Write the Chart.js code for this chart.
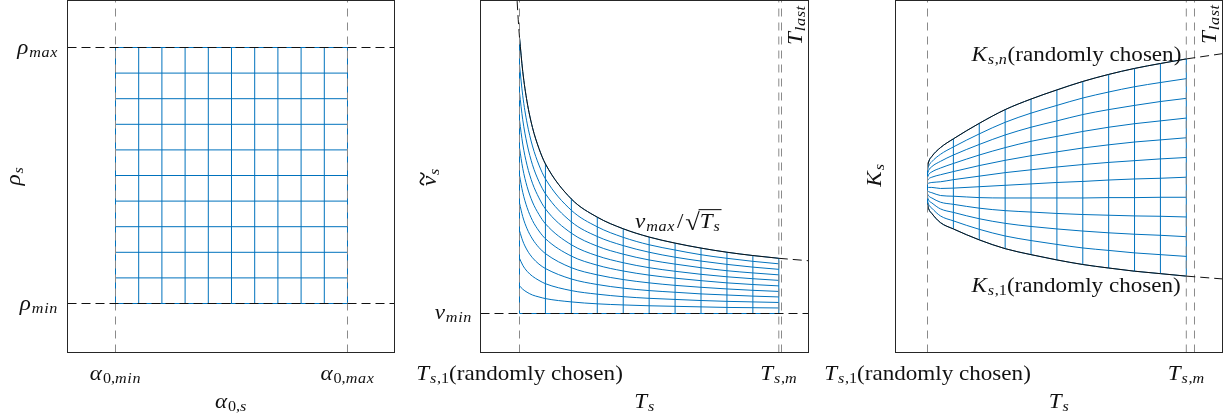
<!DOCTYPE html>
<html>
<head>
<meta charset="utf-8">
<script src="https://cdn.jsdelivr.net/npm/chart.js@4.4.1/dist/chart.umd.min.js"></script>
<style>
  html, body { margin: 0; padding: 0; background: #ffffff; }
  #wrap { position: relative; width: 1231px; height: 418px; overflow: hidden; }
  #wrap canvas { position: absolute; left: 0; top: 0; }
</style>
</head>
<body>
<div id="wrap">
  <canvas id="c1" width="1231" height="418"></canvas>
  <canvas id="c2" width="1231" height="418"></canvas>
  <canvas id="c3" width="1231" height="418"></canvas>
</div>
<script>
// ===================== DATA =====================
// Panel 1: alpha_0 / rho grid
const p1Alpha = [0, 0.1, 0.2, 0.3, 0.4, 0.5, 0.6, 0.7, 0.8, 0.9, 1];
const p1Rho   = [0, 0.1, 0.2, 0.3, 0.4, 0.5, 0.6, 0.7, 0.8, 0.9, 1];
const p1XTickValues = [0, 1];
const p1XTickLabels = ["α_{0,min}", "α_{0,max}"];
const p1YTickValues = [0, 1];
const p1YTickLabels = ["ρ_{min}", "ρ_{max}"];
const p1XTitle = "α_{0,s}";
const p1YTitle = "ρ_s";

// Panel 2: nu~ vs T_s
const p2T = [1, 1.3, 1.7, 2.2, 2.8, 3.4, 5.8, 8.2, 10.6, 13, 15.4, 17.8, 20.2, 22.6, 25];
const p2Envelope = [1.000, 0.877, 0.767, 0.674, 0.598, 0.542, 0.415, 0.349, 0.307, 0.277, 0.255, 0.237, 0.222, 0.210, 0.200];
const p2Curves = [
  [0.100, 0.088, 0.077, 0.067, 0.060, 0.054, 0.042, 0.035, 0.031, 0.028, 0.026, 0.024, 0.022, 0.021, 0.020],
  [0.200, 0.175, 0.153, 0.135, 0.120, 0.108, 0.083, 0.070, 0.061, 0.055, 0.051, 0.047, 0.044, 0.042, 0.040],
  [0.300, 0.263, 0.230, 0.202, 0.179, 0.163, 0.125, 0.105, 0.092, 0.083, 0.077, 0.071, 0.067, 0.063, 0.060],
  [0.400, 0.351, 0.307, 0.270, 0.239, 0.217, 0.166, 0.140, 0.123, 0.111, 0.102, 0.095, 0.089, 0.084, 0.080],
  [0.500, 0.439, 0.384, 0.337, 0.299, 0.271, 0.208, 0.175, 0.154, 0.139, 0.128, 0.119, 0.111, 0.105, 0.100],
  [0.600, 0.526, 0.460, 0.404, 0.359, 0.325, 0.249, 0.209, 0.184, 0.166, 0.153, 0.142, 0.133, 0.126, 0.120],
  [0.700, 0.614, 0.537, 0.472, 0.419, 0.379, 0.291, 0.244, 0.215, 0.194, 0.179, 0.166, 0.155, 0.147, 0.140],
  [0.800, 0.702, 0.614, 0.539, 0.478, 0.434, 0.332, 0.279, 0.246, 0.222, 0.204, 0.190, 0.178, 0.168, 0.160],
  [0.900, 0.789, 0.690, 0.607, 0.538, 0.488, 0.374, 0.314, 0.276, 0.249, 0.230, 0.213, 0.200, 0.189, 0.180]
];
const p2GridT   = [1, 3.4, 5.8, 8.2, 10.6, 13, 15.4, 17.8, 20.2, 22.6, 25];
const p2GridTop = [1.000, 0.542, 0.415, 0.349, 0.307, 0.277, 0.255, 0.237, 0.222, 0.210, 0.200];
const p2NuMin = 0;
const p2EnvLeftT  = [0.78, 0.85, 0.92, 1];
const p2EnvLeftV  = [1.132, 1.085, 1.043, 1.000];
const p2EnvRightT = [25, 27.8];
const p2EnvRightV = [0.200, 0.191];
const p2Ts1 = 1, p2Tsm = 25, p2Tlast = 25.25;
const p2XTickValues = [1, 25];
const p2XTickLabels = ["T_{s,1}\\text{(randomly chosen)}", "T_{s,m}"];
const p2YTickValues = [0];
const p2YTickLabels = ["ν_{min}"];
const p2XTitle = "T_s";
const p2YTitle = "\\tilde{ν}_s";
const p2EnvLabel = "ν_{max}/\\sqrt{T_s}";
const p2TlastLabel = "T_{last}";

// Panel 3: K_s vs T_s
const p3T = [1, 1.1, 1.4, 2.2, 3.4, 5.8, 8.2, 10.6, 13, 15.4, 17.8, 20.2, 22.6, 25];
const p3Curves = [
  [4.23, 4.09, 3.95, 3.69, 3.51, 3.20, 2.95, 2.78, 2.63, 2.50, 2.40, 2.31, 2.24, 2.17],
  [4.32, 4.21, 4.10, 3.88, 3.74, 3.50, 3.31, 3.18, 3.07, 2.97, 2.90, 2.83, 2.78, 2.73],
  [4.42, 4.33, 4.25, 4.08, 3.98, 3.80, 3.67, 3.58, 3.51, 3.45, 3.40, 3.36, 3.33, 3.29],
  [4.51, 4.45, 4.39, 4.27, 4.21, 4.10, 4.03, 3.99, 3.95, 3.92, 3.90, 3.88, 3.87, 3.85],
  [4.60, 4.57, 4.54, 4.46, 4.44, 4.40, 4.39, 4.39, 4.39, 4.39, 4.40, 4.40, 4.41, 4.41],
  [4.69, 4.69, 4.69, 4.66, 4.67, 4.71, 4.75, 4.79, 4.83, 4.86, 4.90, 4.93, 4.95, 4.98],
  [4.79, 4.81, 4.83, 4.85, 4.91, 5.01, 5.11, 5.19, 5.27, 5.34, 5.40, 5.45, 5.50, 5.54],
  [4.88, 4.93, 4.98, 5.05, 5.14, 5.31, 5.46, 5.59, 5.70, 5.81, 5.90, 5.98, 6.04, 6.10],
  [4.97, 5.05, 5.13, 5.24, 5.37, 5.61, 5.82, 6.00, 6.14, 6.28, 6.40, 6.50, 6.58, 6.66],
  [5.07, 5.17, 5.28, 5.43, 5.61, 5.91, 6.18, 6.40, 6.58, 6.76, 6.90, 7.02, 7.13, 7.22],
  [5.16, 5.29, 5.42, 5.63, 5.84, 6.21, 6.54, 6.80, 7.02, 7.23, 7.40, 7.55, 7.67, 7.78],
  [5.25, 5.41, 5.57, 5.82, 6.07, 6.51, 6.90, 7.20, 7.46, 7.70, 7.90, 8.07, 8.21, 8.34]
];
const p3GridT    = [1, 3.4, 5.8, 8.2, 10.6, 13, 15.4, 17.8, 20.2, 22.6, 25];
const p3GridLow  = [4.23, 3.51, 3.20, 2.95, 2.78, 2.63, 2.50, 2.40, 2.31, 2.24, 2.17];
const p3GridHigh = [5.25, 6.07, 6.51, 6.90, 7.20, 7.46, 7.70, 7.90, 8.07, 8.21, 8.34];
const p3ExtT     = [25, 28.36];
const p3ExtHigh  = [8.34, 8.49];
const p3ExtLow   = [2.17, 2.09];
const p3Ts1 = 1, p3Tsm = 25, p3Tlast = 25.76;
const p3XTickValues = [1, 25];
const p3XTickLabels = ["T_{s,1}\\text{(randomly chosen)}", "T_{s,m}"];
const p3XTitle = "T_s";
const p3YTitle = "K_s";
const p3UpperLabel = "K_{s,n}\\text{(randomly chosen)}";
const p3LowerLabel = "K_{s,1}\\text{(randomly chosen)}";
const p3TlastLabel = "T_{last}";

// ===================== STYLE / LAYOUT =====================
const W = 1231, H = 418;
const BLUE = '#0072BD', BLACK = '#111111', GRAY = '#8a8a8a', FRAME = '#262626', TEXTC = '#111111';
const SERIF = '"Liberation Serif", "DejaVu Serif", serif';
const FS = 21, STRETCH = 1.1;
const AREA1 = {l: 67.5, t: 0.5, r: 394.5, b: 352.5};
const AREA2 = {l: 480.5, t: 0.5, r: 808.5, b: 352.5};
const AREA3 = {l: 895.5, t: 0.5, r: 1222.5, b: 352.5};
const AX1 = {x: [-0.2069, 1.2026], y: [-0.1914, 1.1836]};
const AX2 = {x: [-2.610, 27.749], y: [-0.1413, 1.1341]};
const AX3 = {x: [-1.968, 28.357], y: [0, 10]};
const XTICK_BASE = 380, XTITLE_BASE = 408;

// ===================== TEX-LIKE TEXT =====================
function parseTex(s) {
  let i = 0;
  function parseArg() {
    if (s[i] === '{') { i++; const n = parseSeq('}'); i++; return n; }
    return [{t: 'c', v: s[i++]}];
  }
  function parseSeq(end) {
    const out = [];
    while (i < s.length && s[i] !== end) {
      const ch = s[i];
      if (ch === '\\') {
        const m = /^\\([a-z]+)/.exec(s.slice(i));
        i += m[0].length;
        const cmd = m[1];
        if (cmd === 'text') { i++; const j = s.indexOf('}', i); out.push({t: 'text', v: s.slice(i, j)}); i = j + 1; }
        else if (cmd === 'sqrt') out.push({t: 'sqrt', c: parseArg()});
        else if (cmd === 'tilde') out.push({t: 'tilde', c: parseArg()});
      } else if (ch === '_') { i++; out.push({t: 'sub', c: parseArg()}); }
      else { out.push({t: 'c', v: ch}); i++; }
    }
    return out;
  }
  return parseSeq(undefined);
}
function renderTex(ctx, nodes, x, y, size, draw) {
  let cx = x;
  for (const n of nodes) {
    if (n.t === 'c') {
      const it = /[A-Za-z\u0370-\u03FF]/.test(n.v);
      const pad = n.v === '/' ? size * 0.08 : 0;
      ctx.font = (it ? 'italic ' : '') + size + 'px ' + SERIF;
      if (draw) ctx.fillText(n.v, cx + pad, y);
      cx += ctx.measureText(n.v).width + (it ? size * 0.04 : 0) + 2 * pad;
    } else if (n.t === 'text') {
      ctx.font = size + 'px ' + SERIF;
      if (draw) ctx.fillText(n.v, cx, y);
      cx += ctx.measureText(n.v).width;
    } else if (n.t === 'sub') {
      cx += renderTex(ctx, n.c, cx, y + size * 0.16, size * 0.7, draw);
    } else if (n.t === 'sqrt') {
      ctx.font = (size * 1.15) + 'px ' + SERIF;
      const w0 = ctx.measureText('√').width;
      if (draw) ctx.fillText('√', cx, y + size * 0.1);
      cx += w0;
      const w = renderTex(ctx, n.c, cx, y, size, false);
      if (draw) {
        renderTex(ctx, n.c, cx, y, size, true);
        ctx.fillRect(cx - 1, y - size * 0.9, w + 2, Math.max(1, size * 0.05));
      }
      cx += w;
    } else if (n.t === 'tilde') {
      const w = renderTex(ctx, n.c, cx, y, size, draw);
      if (draw) {
        const tcx = cx + w / 2 + size * 0.07, ty = y - size * 0.66;
        const tw = size * 0.5, amp = size * 0.13;
        ctx.save();
        ctx.lineWidth = Math.max(1.2, size * 0.07);
        ctx.strokeStyle = ctx.fillStyle;
        ctx.lineCap = 'round';
        ctx.beginPath();
        ctx.moveTo(tcx - tw / 2, ty + amp * 0.5);
        ctx.bezierCurveTo(tcx - tw / 3, ty - amp * 1.4, tcx - tw / 8, ty - amp * 0.6, tcx, ty);
        ctx.bezierCurveTo(tcx + tw / 8, ty + amp * 0.6, tcx + tw / 3, ty + amp * 1.4, tcx + tw / 2, ty - amp * 0.5);
        ctx.stroke();
        ctx.restore();
      }
      cx += w;
    }
  }
  return cx - x;
}
function tex(ctx, str, x, y, align, rot) {
  const nodes = parseTex(str);
  ctx.save();
  ctx.textAlign = 'left'; ctx.textBaseline = 'alphabetic';
  const w = renderTex(ctx, nodes, 0, 0, FS, false);
  const off = align === 'center' ? w / 2 : (align === 'right' ? w : 0);
  ctx.translate(x, y);
  if (rot) ctx.rotate(rot);
  ctx.scale(STRETCH, 1);
  renderTex(ctx, nodes, -off, 0, FS, true);
  ctx.restore();
}

// ===================== CHART HELPERS =====================
function line(xs, ys, style) {
  return Object.assign({
    data: xs.map((x, k) => ({x: x, y: ys[k]})),
    borderColor: BLUE, borderWidth: 1, pointRadius: 0, pointHoverRadius: 0,
    fill: false, tension: 0, order: 3
  }, style || {});
}
const CURVE = {cubicInterpolationMode: 'monotone'};
const DASH_BLACK = {borderColor: BLACK, borderDash: [9, 5], order: 0};
const DASH_GRAY = {borderColor: GRAY, borderDash: [8, 6], order: 0};
const SOLID_BLACK = {borderColor: BLACK, order: 1};

function textPlugin(drawFn) {
  return {
    id: 'texLabels',
    afterDraw(chart) {
      const ctx = chart.ctx, a = chart.chartArea;
      ctx.save();
      ctx.setLineDash([]);
      ctx.strokeStyle = FRAME; ctx.lineWidth = 1;
      ctx.strokeRect(a.left, a.top, a.right - a.left, a.bottom - a.top);
      ctx.fillStyle = TEXTC;
      drawFn(ctx, chart.scales.x, chart.scales.y, a);
      ctx.restore();
    }
  };
}
function makeChart(id, area, ax, datasets, drawFn) {
  return new Chart(document.getElementById(id), {
    type: 'line',
    data: {datasets: datasets},
    options: {
      responsive: false, animation: false, devicePixelRatio: 1, events: [],
      layout: {padding: {left: area.l, top: area.t, right: W - area.r, bottom: H - area.b}},
      plugins: {legend: {display: false}, tooltip: {enabled: false}},
      scales: {
        x: {type: 'linear', min: ax.x[0], max: ax.x[1], display: false},
        y: {type: 'linear', min: ax.y[0], max: ax.y[1], display: false}
      }
    },
    plugins: [textPlugin(drawFn)]
  });
}

// ===================== PANEL 1 =====================
const ds1 = [];
p1Alpha.forEach(a => ds1.push(line([a, a], [p1Rho[0], p1Rho[p1Rho.length - 1]])));
p1Rho.forEach(r => ds1.push(line([p1Alpha[0], p1Alpha[p1Alpha.length - 1]], [r, r])));
p1YTickValues.forEach(v => ds1.push(line(AX1.x, [v, v], DASH_BLACK)));
p1XTickValues.forEach(v => ds1.push(line([v, v], AX1.y, DASH_GRAY)));
makeChart('c1', AREA1, AX1, ds1, (ctx, sx, sy, a) => {
  p1XTickValues.forEach((v, k) => tex(ctx, p1XTickLabels[k], sx.getPixelForValue(v), XTICK_BASE, 'center'));
  p1YTickValues.forEach((v, k) => tex(ctx, p1YTickLabels[k], a.left - 9.5, sy.getPixelForValue(v) + 6, 'right'));
  tex(ctx, p1XTitle, (a.left + a.right) / 2, XTITLE_BASE, 'center');
  tex(ctx, p1YTitle, 20, 176, 'center', -Math.PI / 2);
});

// ===================== PANEL 2 =====================
const ds2 = [];
ds2.push(line([p2GridT[0], p2GridT[p2GridT.length - 1]], [p2NuMin, p2NuMin]));
p2Curves.forEach(c => ds2.push(line(p2T, c, CURVE)));
ds2.push(line(p2T, p2Envelope, CURVE));
p2GridT.forEach((t, k) => ds2.push(line([t, t], [p2NuMin, p2GridTop[k]])));
ds2.push(line(p2T, p2Envelope, Object.assign({}, CURVE, SOLID_BLACK)));
ds2.push(line(p2EnvLeftT, p2EnvLeftV, Object.assign({}, CURVE, DASH_BLACK)));
ds2.push(line(p2EnvRightT, p2EnvRightV, DASH_BLACK));
ds2.push(line(AX2.x, [p2NuMin, p2NuMin], DASH_BLACK));
[p2Ts1, p2Tsm, p2Tlast].forEach(t => ds2.push(line([t, t], AX2.y, DASH_GRAY)));
makeChart('c2', AREA2, AX2, ds2, (ctx, sx, sy, a) => {
  p2XTickValues.forEach((v, k) => tex(ctx, p2XTickLabels[k], sx.getPixelForValue(v), XTICK_BASE, 'center'));
  p2YTickValues.forEach((v, k) => tex(ctx, p2YTickLabels[k], a.left - 8.5, sy.getPixelForValue(v) + 5, 'right'));
  tex(ctx, p2XTitle, (a.left + a.right) / 2, XTITLE_BASE, 'center');
  tex(ctx, p2YTitle, 436, 177, 'center', -Math.PI / 2);
  tex(ctx, p2EnvLabel, 635, 228, 'left');
  tex(ctx, p2TlastLabel, 802, 45, 'left', -Math.PI / 2);
});

// ===================== PANEL 3 =====================
const ds3 = [];
p3Curves.forEach(c => ds3.push(line(p3T, c, CURVE)));
p3GridT.forEach((t, k) => ds3.push(line([t, t], [p3GridLow[k], p3GridHigh[k]])));
ds3.push(line(p3T, p3Curves[0], Object.assign({}, CURVE, SOLID_BLACK)));
ds3.push(line(p3T, p3Curves[p3Curves.length - 1], Object.assign({}, CURVE, SOLID_BLACK)));
ds3.push(line(p3ExtT, p3ExtHigh, DASH_BLACK));
ds3.push(line(p3ExtT, p3ExtLow, DASH_BLACK));
[p3Ts1, p3Tsm, p3Tlast].forEach(t => ds3.push(line([t, t], AX3.y, DASH_GRAY)));
makeChart('c3', AREA3, AX3, ds3, (ctx, sx, sy, a) => {
  p3XTickValues.forEach((v, k) => tex(ctx, p3XTickLabels[k], sx.getPixelForValue(v), XTICK_BASE, 'center'));
  tex(ctx, p3XTitle, (a.left + a.right) / 2, XTITLE_BASE, 'center');
  tex(ctx, p3YTitle, 881, 175, 'center', -Math.PI / 2);
  tex(ctx, p3UpperLabel, 971.5, 61, 'left');
  tex(ctx, p3LowerLabel, 971.5, 291.5, 'left');
  tex(ctx, p3TlastLabel, 1216, 44, 'left', -Math.PI / 2);
});
</script>
</body>
</html>
